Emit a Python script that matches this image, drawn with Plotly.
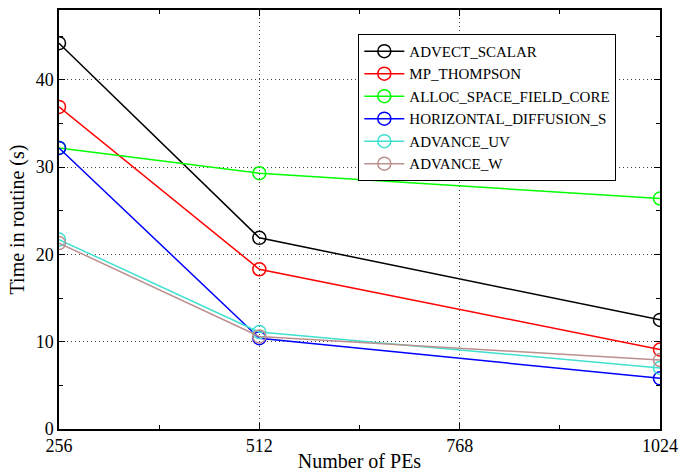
import plotly.graph_objects as go

pes = [256, 512, 1024]
series_names = ["ADVECT_SCALAR", "MP_THOMPSON", "ALLOC_SPACE_FIELD_CORE",
                "HORIZONTAL_DIFFUSION_S", "ADVANCE_UV", "ADVANCE_W"]
advect_scalar = [44.2, 21.9, 12.5]
mp_thompson = [36.9, 18.3, 9.1]
alloc_space_field_core = [32.2, 29.3, 26.4]
horizontal_diffusion_s = [32.2, 10.4, 5.8]
advance_uv = [21.7, 11.1, 7.0]
advance_w = [21.3, 10.6, 7.9]
values = [advect_scalar, mp_thompson, alloc_space_field_core,
          horizontal_diffusion_s, advance_uv, advance_w]
colors = ["#000000", "#ff0000", "#00ff00", "#0000ff", "#40e0d0", "#bc8f8f"]
x_ticks = [256, 512, 768, 1024]
y_ticks = [0, 10, 20, 30, 40]

font = "Liberation Serif"
fig = go.Figure()
for name, v, c in zip(series_names, values, colors):
    fig.add_trace(go.Scatter(
        x=pes, y=v, name=name, mode="lines+markers",
        line=dict(color=c, width=1.5),
        marker=dict(symbol="circle-open", size=13, color=c, line=dict(width=1.5, color=c)),
    ))

axis_common = dict(
    showline=True, linecolor="black", linewidth=1.5, mirror="ticks",
    ticks="inside", ticklen=6, tickcolor="black",
    showgrid=True, gridcolor="#444444", griddash="1px,3px", gridwidth=1,
    zeroline=False, tickfont=dict(family=font, size=18, color="black"),
)
fig.update_xaxes(range=[256, 1024], tickvals=x_ticks, ticktext=[str(t) for t in x_ticks],
                 minor=dict(tickvals=[384, 640, 896], ticks="inside", ticklen=4, tickcolor="black", showgrid=False),
                 title=dict(text="Number of PEs", font=dict(family=font, size=20, color="black")),
                 automargin=False, **axis_common)
fig.update_yaxes(range=[0, 48], tickvals=y_ticks, ticktext=[str(t) for t in y_ticks],
                 minor=dict(tickvals=[5, 15, 25, 35, 45], ticks="inside", ticklen=4, tickcolor="black", showgrid=False),
                 title=dict(text="Time in routine (s)", font=dict(family=font, size=20, color="black"), standoff=6),
                 automargin=True, **axis_common)
fig.update_layout(
    width=681, height=472,
    margin=dict(l=59, r=21, t=10, b=43),
    paper_bgcolor="white", plot_bgcolor="white",
    showlegend=True,
    legend=dict(x=0.498, y=0.943, xanchor="left", yanchor="top",
                bgcolor="white", bordercolor="black", borderwidth=1,
                font=dict(family=font, size=15, color="black"),
                tracegroupgap=0, itemwidth=40),
)
fig.write_html("out.html")
